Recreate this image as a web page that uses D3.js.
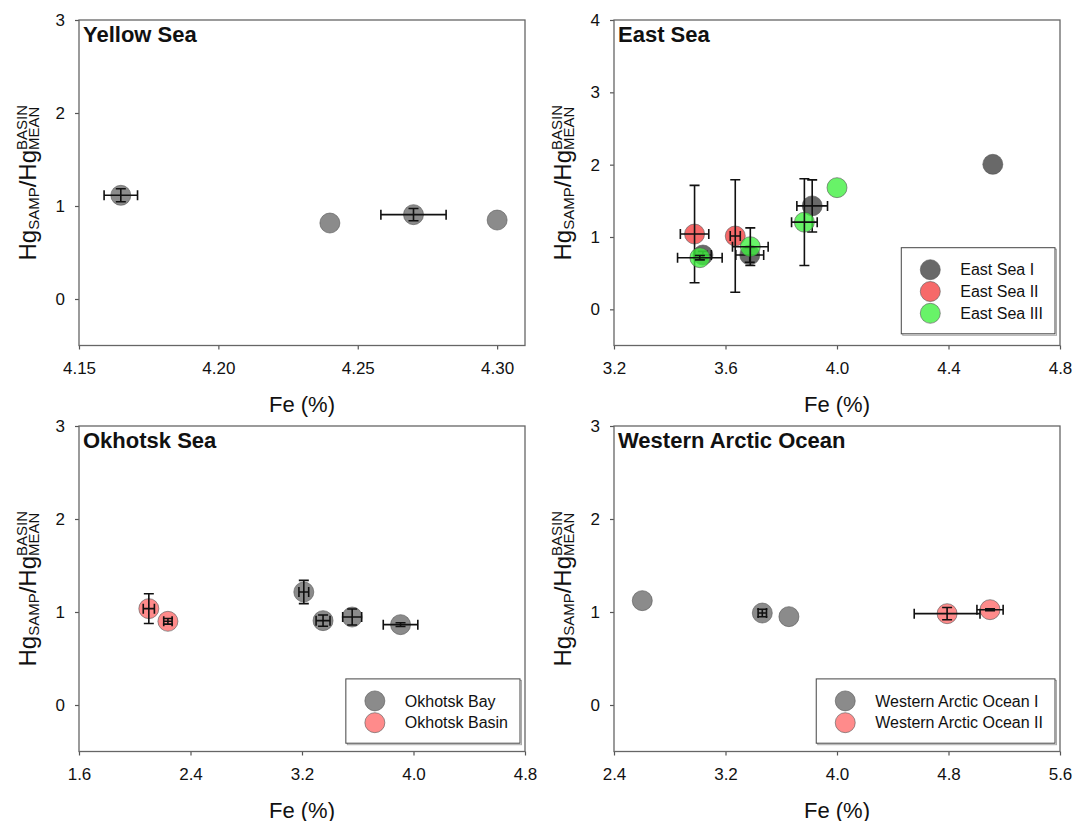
<!DOCTYPE html>
<html>
<head>
<meta charset="utf-8">
<script src="https://cdn.jsdelivr.net/npm/d3@7"></script>
<style>
  body { margin: 0; background: #fff; }
  svg { display: block; font-family: "Liberation Sans", Arial, sans-serif; }
</style>
</head>
<body>
<svg id="chart" width="1073" height="821"></svg>
<script>
// === Données : [Fe (%), Hg samp/mean, erreur Fe, erreur Hg] ===
const yellowSea = [[4.165, 1.115, 0.006, 0.07], [4.240, 0.817, 0, 0], [4.270, 0.907, 0.0117, 0.066], [4.300, 0.849, 0, 0]];

const eastSeaI = [[3.519, 0.751, 0.03, 0.05], [3.687, 0.751, 0.05, 0.1], [3.911, 1.43, 0.055, 0.36], [4.559, 2.005, 0, 0]];
const eastSeaII = [[3.489, 1.041, 0.051, 0.673], [3.635, 1.014, 0.018, 0.777]];
const eastSeaIII = [[3.508, 0.714, 0.08, 0.03], [3.689, 0.866, 0.064, 0.26], [3.883, 1.205, 0.046, 0.6], [4.0, 1.682, 0, 0]];

const okhotskBay = [[3.213, 1.215, 0.035, 0.125], [3.351, 0.907, 0.05, 0.06], [3.56, 0.946, 0.068, 0.086], [3.907, 0.864, 0.124, 0.02]];
const okhotskBasin = [[2.101, 1.036, 0.04, 0.16], [2.238, 0.9, 0.03, 0.03]];

const arcticI = [[2.603, 1.122, 0, 0], [3.464, 0.989, 0.03, 0.04], [3.655, 0.95, 0, 0]];
const arcticII = [[4.79, 0.982, 0.236, 0.066], [5.098, 1.025, 0.094, 0.01]];

// Graduations
const yellowTicks = [4.15, 4.20, 4.25, 4.30];
const eastTicks = [3.2, 3.6, 4.0, 4.4, 4.8];
const okhotskTicks = [1.6, 2.4, 3.2, 4.0, 4.8];
const arcticTicks = [2.4, 3.2, 4.0, 4.8, 5.6];
const hgTicks3 = [0, 1, 2, 3];
const hgTicks4 = [0, 1, 2, 3, 4];

// === Mise en page ===
const svg = d3.select('#chart');
const W = 446, H = 325.5;
const colLeft = [79, 614], rowTop = [20, 426];

const panels = [
  { title: 'Yellow Sea', left: colLeft[0], top: rowTop[0], xDomain: [4.15, 4.31], xTicks: yellowTicks, fmt: '.2f',
    yDomain: [-0.5, 3], yTicks: hgTicks3, legend: false,
    series: [{ name: 'Yellow Sea', data: yellowSea, fill: '#6a6a6a' }] },
  { title: 'East Sea', left: colLeft[1], top: rowTop[0], xDomain: [3.2, 4.8], xTicks: eastTicks, fmt: '.1f',
    yDomain: [-0.5, 4], yTicks: hgTicks4, legend: true, legendBottom: 11.7,
    series: [
      { name: 'East Sea I', data: eastSeaI, fill: '#3f3f3f' },
      { name: 'East Sea II', data: eastSeaII, fill: '#f43f3f' },
      { name: 'East Sea III', data: eastSeaIII, fill: '#3ef03e' }
    ] },
  { title: 'Okhotsk Sea', left: colLeft[0], top: rowTop[1], xDomain: [1.6, 4.8], xTicks: okhotskTicks, fmt: '.1f',
    yDomain: [-0.5, 3], yTicks: hgTicks3, legend: true, legendBottom: 8.3,
    series: [
      { name: 'Okhotsk Bay', data: okhotskBay, fill: '#6a6a6a' },
      { name: 'Okhotsk Basin', data: okhotskBasin, fill: '#ff6a6a' }
    ] },
  { title: 'Western Arctic Ocean', left: colLeft[1], top: rowTop[1], xDomain: [2.4, 5.6], xTicks: arcticTicks, fmt: '.1f',
    yDomain: [-0.5, 3], yTicks: hgTicks3, legend: true, legendBottom: 8.3,
    series: [
      { name: 'Western Arctic Ocean I', data: arcticI, fill: '#6a6a6a' },
      { name: 'Western Arctic Ocean II', data: arcticII, fill: '#ff6a6a' }
    ] }
];

const R = 10;     // rayon des marqueurs
const CAP = 5;    // demi-largeur des chapeaux d'erreur

panels.forEach(p => {
  const x = d3.scaleLinear().domain(p.xDomain).range([p.left, p.left + W]);
  const y = d3.scaleLinear().domain(p.yDomain).range([p.top + H, p.top]);
  const g = svg.append('g');

  // Axes
  const xAxis = g.append('g')
    .attr('transform', `translate(0,${p.top + H})`)
    .call(d3.axisBottom(x).tickValues(p.xTicks).tickFormat(d3.format(p.fmt)).tickSize(4).tickPadding(12).tickSizeOuter(0));
  const yAxis = g.append('g')
    .attr('transform', `translate(${p.left},0)`)
    .call(d3.axisLeft(y).tickValues(p.yTicks).tickFormat(d3.format('d')).tickSize(4).tickPadding(10).tickSizeOuter(0));
  [xAxis, yAxis].forEach(a => {
    a.select('.domain').remove();
    a.selectAll('.tick line').attr('stroke', '#555').attr('stroke-width', 1.2);
    a.selectAll('.tick text').attr('fill', '#111').style('font-size', '17px').style('font-family', '"Liberation Sans", Arial, sans-serif');
  });

  // Cadre
  g.append('rect')
    .attr('x', p.left).attr('y', p.top).attr('width', W).attr('height', H)
    .attr('fill', 'none').attr('stroke', '#666').attr('stroke-width', 1.3);

  // Titre
  g.append('text')
    .attr('x', p.left + 4).attr('y', p.top + 22)
    .style('font-size', '22px').style('font-weight', 'bold').attr('fill', '#111')
    .text(p.title);

  // Titre de l'axe X
  g.append('text')
    .attr('x', p.left + W / 2).attr('y', p.top + H + 66)
    .attr('text-anchor', 'middle').style('font-size', '22px').attr('fill', '#111')
    .text('Fe (%)');

  // Titre de l'axe Y : Hg_SAMP / Hg^BASIN_MEAN
  drawYLabel(g, p.left - 43, p.top + H / 2);

  // Séries : marqueurs puis barres d'erreur
  p.series.forEach(s => {
    const pts = g.append('g');
    pts.selectAll('circle').data(s.data).enter().append('circle')
      .attr('cx', d => x(d[0])).attr('cy', d => y(d[1])).attr('r', R)
      .attr('fill', s.fill).attr('fill-opacity', 0.78)
      .attr('stroke', '#555').attr('stroke-opacity', 0.6).attr('stroke-width', 1);

    const eb = pts.selectAll('g.err').data(s.data.filter(d => d[2] > 0 || d[3] > 0)).enter().append('g')
      .attr('class', 'err').attr('stroke', '#111').attr('stroke-width', 1.6).attr('fill', 'none');
    eb.filter(d => d[2] > 0).append('path')
      .attr('d', d => {
        const x0 = x(d[0] - d[2]), x1 = x(d[0] + d[2]), yc = y(d[1]);
        return `M${x0},${yc}H${x1}M${x0},${yc - CAP}V${yc + CAP}M${x1},${yc - CAP}V${yc + CAP}`;
      });
    eb.filter(d => d[3] > 0).append('path')
      .attr('d', d => {
        const y0 = y(d[1] - d[3]), y1 = y(d[1] + d[3]), xc = x(d[0]);
        return `M${xc},${y0}V${y1}M${xc - CAP},${y0}H${xc + CAP}M${xc - CAP},${y1}H${xc + CAP}`;
      });
  });

  // Légende
  if (p.legend) {
    const rowH = 21.8;
    const n = p.series.length;
    const boxH = 22 + (n - 1) * rowH + 20.5;
    const bottom = p.top + H - p.legendBottom;
    const topY = bottom - boxH;
    const lg = g.append('g');
    const shadow = lg.append('rect');
    const box = lg.append('rect');
    const labels = lg.selectAll('text').data(p.series).enter().append('text')
      .attr('y', (d, i) => topY + 22 + i * rowH)
      .attr('dy', '0.35em').style('font-size', '16px').attr('fill', '#111')
      .text(d => d.name);
    let maxW = 0;
    labels.each(function () { maxW = Math.max(maxW, this.getComputedTextLength()); });
    const boxW = 59 + maxW + 12;
    const leftX = p.left + W - 5 - boxW;
    labels.attr('x', leftX + 59);
    lg.selectAll('circle').data(p.series).enter().append('circle')
      .attr('cx', leftX + 29).attr('cy', (d, i) => topY + 22 + i * rowH).attr('r', R)
      .attr('fill', d => d.fill).attr('fill-opacity', 0.78)
      .attr('stroke', '#555').attr('stroke-opacity', 0.6);
    shadow.attr('x', leftX + 1.5).attr('y', topY + 1.5).attr('width', boxW).attr('height', boxH)
      .attr('fill', 'none').attr('stroke', '#aaa').attr('stroke-width', 1);
    box.attr('x', leftX).attr('y', topY).attr('width', boxW).attr('height', boxH)
      .attr('fill', '#fff').attr('stroke', '#444').attr('stroke-width', 1);
  }
});

// Fonction de dessin du titre Y avec indices/exposants empilés
function drawYLabel(g, cx, cy) {
  const t = g.append('text')
    .attr('transform', `translate(${cx},${cy}) rotate(-90)`)
    .attr('fill', '#111').style('font-size', '24px');
  const a = t.append('tspan').text('Hg');
  const b = t.append('tspan').style('font-size', '15px').attr('dy', 3).text('SAMP');
  const c = t.append('tspan').attr('dy', -3).text('/Hg');
  const sup = t.append('tspan').style('font-size', '15px').attr('dy', -9).text('BASIN');
  const sub = t.append('tspan').style('font-size', '15px').attr('dy', 12).text('MEAN');
  const wSup = sup.node().getComputedTextLength();
  const wSub = sub.node().getComputedTextLength();
  sub.attr('dx', -wSup);
  // centrage manuel sur la longueur visible
  const total = a.node().getComputedTextLength() + b.node().getComputedTextLength()
    + c.node().getComputedTextLength() + Math.max(wSup, wSub);
  a.attr('x', -total / 2);
}
</script>
</body>
</html>
